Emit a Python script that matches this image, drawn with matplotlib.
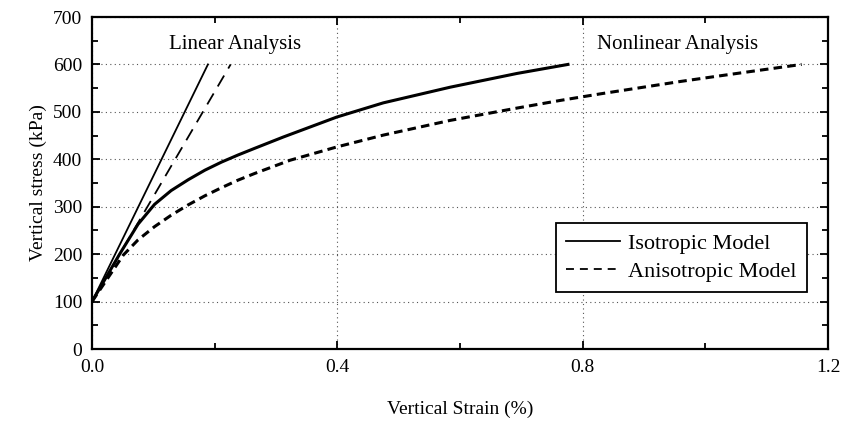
import matplotlib
matplotlib.use("Agg")
import matplotlib.pyplot as plt
from matplotlib.ticker import MultipleLocator
from matplotlib.lines import Line2D

plt.rcParams['font.family'] = ['Liberation Serif', 'DejaVu Serif']

# Linear analysis (straight lines)
iso_lin_x = [0.0, 0.189]
iso_lin_y = [100, 600]
aniso_lin_x = [0.0, 0.226]
aniso_lin_y = [100, 600]

# Nonlinear analysis
iso_x = [0.0, 0.045, 0.075, 0.102, 0.129, 0.157, 0.184, 0.211, 0.238, 0.265,
         0.312, 0.399, 0.475, 0.584, 0.693, 0.776]
iso_y = [100, 200, 263, 305, 334, 357, 377, 394, 409, 423,
         447, 489, 519, 552, 581, 600]
aniso_x = [0.0, 0.051, 0.075, 0.102, 0.129, 0.157, 0.184, 0.211, 0.238, 0.265,
           0.323, 0.399, 0.475, 0.584, 0.693, 0.763, 0.829, 0.894, 0.959, 1.024,
           1.090, 1.157]
aniso_y = [100, 198, 230, 258, 282, 304, 323, 340, 356, 370,
           398, 426, 451, 482, 508, 524, 538, 551, 564, 576,
           588, 600]

x_ticks = [0.0, 0.4, 0.8, 1.2]
x_ticklabels = ['0.0', '0.4', '0.8', '1.2']
y_ticks = [0, 100, 200, 300, 400, 500, 600, 700]

fig = plt.figure(figsize=(8.53, 4.21), dpi=100)
ax = fig.add_axes([92/853, 1-349/421, (828-92)/853, (349-17)/421])

ax.plot(iso_lin_x, iso_lin_y, color='black', lw=1.3, ls='-')
ax.plot(aniso_lin_x, aniso_lin_y, color='black', lw=1.3, ls=(0, (7, 4.5)))
ax.plot(iso_x, iso_y, color='black', lw=2.2, ls='-')
ax.plot(aniso_x, aniso_y, color='black', lw=2.2, ls=(0, (2.8, 1.7)))

ax.set_xlim(0, 1.2)
ax.set_ylim(0, 700)
ax.set_xticks(x_ticks)
ax.set_xticklabels(x_ticklabels)
ax.set_yticks(y_ticks)
ax.xaxis.set_minor_locator(MultipleLocator(0.2))
ax.yaxis.set_minor_locator(MultipleLocator(50))
ax.tick_params(which='both', direction='in', top=True, right=True, labelsize=14, width=1.3)
ax.tick_params(which='major', length=6, pad=7)
ax.tick_params(which='minor', length=4)
for s in ax.spines.values():
    s.set_linewidth(1.6)

ax.grid(True, which='major', ls=(0, (1, 3)), lw=0.8, color='#555555')

ax.set_xlabel('Vertical Strain (%)', fontsize=14, labelpad=18)
ax.set_ylabel('Vertical stress (kPa)', fontsize=14, labelpad=4)

ax.text(0.233, 641, 'Linear Analysis', fontsize=15, ha='center', va='center')
ax.text(0.954, 641, 'Nonlinear Analysis', fontsize=15, ha='center', va='center')

handles = [Line2D([], [], color='black', lw=1.3, ls='-'),
           Line2D([], [], color='black', lw=1.3, ls=(0, (4.4, 3.3)))]
leg = ax.legend(handles, ['Isotropic Model', 'Anisotropic Model'], loc='lower right',
                bbox_to_anchor=((807-92)/736, (349-292)/332), borderaxespad=0,
                fontsize=16, frameon=True, fancybox=False, edgecolor='black',
                framealpha=1, handlelength=2.4, handletextpad=0.4,
                borderpad=0.45, labelspacing=0.35)
leg.get_frame().set_linewidth(1.3)

fig.savefig('out.png', dpi=100)
